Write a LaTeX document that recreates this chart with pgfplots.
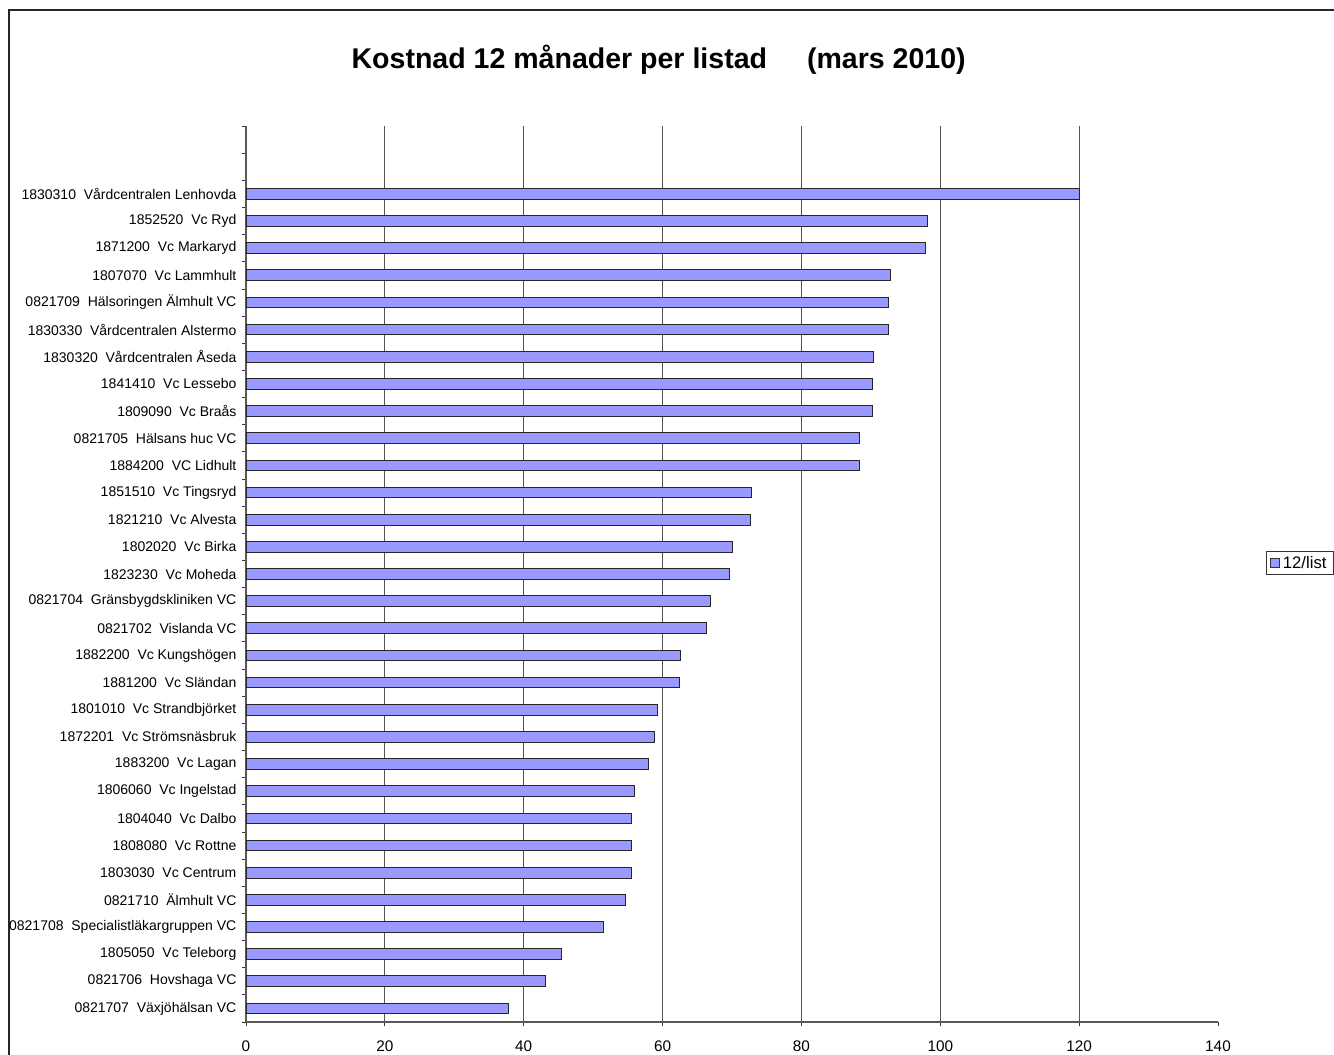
\documentclass[border=0pt]{standalone}
\usepackage{pgfplots}
\pgfplotsset{compat=1.18}
\usepackage{fontspec}
\setmainfont{Liberation Sans}
\definecolor{barfill}{HTML}{9999FF}
\definecolor{gridc}{HTML}{555555}
\pgfplotstableread{
y v
0 37.8
1 43.2
2 45.4
3 51.5
4 54.6
5 55.5
6 55.5
7 55.5
8 56.0
9 58.0
10 58.8
11 59.3
12 62.4
13 62.6
14 66.3
15 66.9
16 69.6
17 70.0
18 72.6
19 72.8
20 88.4
21 88.4
22 90.2
23 90.2
24 90.4
25 92.5
26 92.5
27 92.8
28 97.8
29 98.2
30 120.1
}\datatable
\begin{document}
\begin{tikzpicture}
\useasboundingbox (0pt,0pt) rectangle (1000.5pt,-791.25pt);
\draw[line width=1.4pt, black!85] (6.75pt,-791.25pt) -- (6.75pt,-7.5pt) -- (1000.5pt,-7.5pt);
\node[font=\bfseries\fontsize{21.4}{25}\selectfont] at (494pt,-45pt) {Kostnad 12 månader per listad\hspace{30pt}(mars 2010)};
\begin{axis}[
  at={(184.5pt,-766.5pt)}, anchor=south west,
  scale only axis, width=729pt, height=672pt,
  xmin=0, xmax=140, ymin=-0.5, ymax=32.5,
  xbar, bar width=8pt,
  axis lines=left,
  axis line style={-, draw=black!65, line width=0.9pt},
  tick align=outside, major tick length=3pt,
  tick style={black!80, line width=0.6pt},
  xtick={0,20,...,140},
  ytick={-0.5,0.5,...,32.5}, yticklabels={},
  extra x ticks={20,40,...,120}, extra x tick labels={},
  extra x tick style={grid=major, major tick length=0pt},
  major grid style={draw=gridc, line width=0.75pt},
  extra y ticks={0,...,30},
  extra y tick labels={
    {0821707\ \ Växjöhälsan VC},
    {0821706\ \ Hovshaga VC},
    {1805050\ \ Vc Teleborg},
    {0821708\ \ Specialistläkargruppen VC},
    {0821710\ \ Älmhult VC},
    {1803030\ \ Vc Centrum},
    {1808080\ \ Vc Rottne},
    {1804040\ \ Vc Dalbo},
    {1806060\ \ Vc Ingelstad},
    {1883200\ \ Vc Lagan},
    {1872201\ \ Vc Strömsnäsbruk},
    {1801010\ \ Vc Strandbjörket},
    {1881200\ \ Vc Sländan},
    {1882200\ \ Vc Kungshögen},
    {0821702\ \ Vislanda VC},
    {0821704\ \ Gränsbygdskliniken VC},
    {1823230\ \ Vc Moheda},
    {1802020\ \ Vc Birka},
    {1821210\ \ Vc Alvesta},
    {1851510\ \ Vc Tingsryd},
    {1884200\ \ VC Lidhult},
    {0821705\ \ Hälsans huc VC},
    {1809090\ \ Vc Braås},
    {1841410\ \ Vc Lessebo},
    {1830320\ \ Vårdcentralen Åseda},
    {1830330\ \ Vårdcentralen Alstermo},
    {0821709\ \ Hälsoringen Älmhult VC},
    {1807070\ \ Vc Lammhult},
    {1871200\ \ Vc Markaryd},
    {1852520\ \ Vc Ryd},
    {1830310\ \ Vårdcentralen Lenhovda}},
  extra y tick style={major tick length=0pt, tick style={draw=none}},
  yticklabel style={font=\fontsize{10.5}{12}\selectfont, inner sep=0pt, xshift=-7pt},
  xticklabel style={font=\fontsize{11.5}{13}\selectfont, /pgf/number format/assume math mode=true, inner sep=0pt, yshift=-11pt},
  legend style={at={(1.0494,0.5123)}, anchor=west, draw=black!80, line width=0.6pt,
    font=\fontsize{12.5}{14}\selectfont, inner xsep=3pt, inner ysep=1.5pt, legend cell align=left},
  legend image code/.code={\draw[fill=barfill, draw=black!80, line width=0.6pt] (0pt,-3.4pt) rectangle (6.8pt,3.4pt);},
]
\addplot[fill=barfill, draw=black!85, line width=0.75pt] table[x=v, y=y] {\datatable};
\addlegendentry{12/list}
\end{axis}
\end{tikzpicture}
\end{document}
